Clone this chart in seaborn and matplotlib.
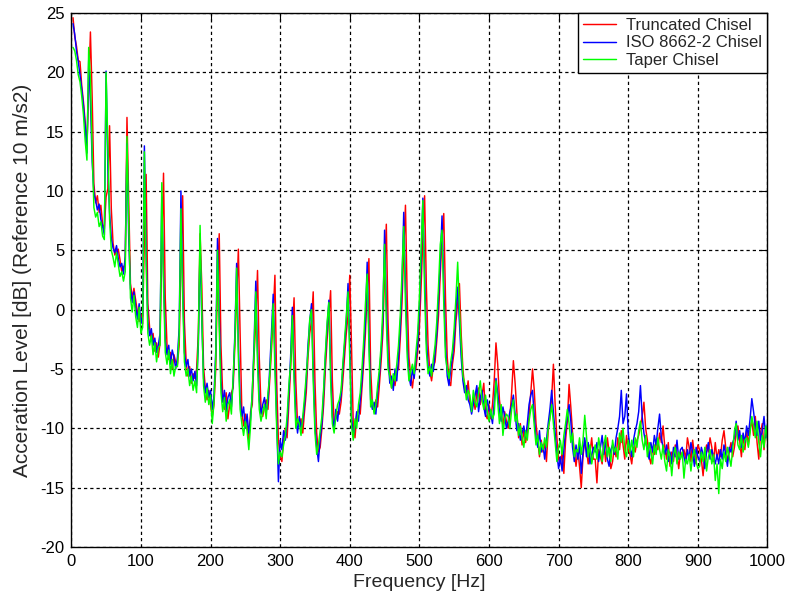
import numpy as np
import pandas as pd
import matplotlib
matplotlib.use("Agg")
import matplotlib.pyplot as plt
import seaborn as sns

series_names = ["Truncated Chisel", "ISO 8662-2 Chisel", "Taper Chisel"]
series_colors = ["#ff0000", "#0000ff", "#00ff00"]
x_ticks = [0, 100, 200, 300, 400, 500, 600, 700, 800, 900, 1000]
y_ticks = [-20, -15, -10, -5, 0, 5, 10, 15, 20, 25]
x_label = "Frequency [Hz]"
y_label = "Acceration Level [dB] (Reference 10 m/s2)"
freq_step = 2.5  # Hz between samples (first sample at 2.5 Hz)

# Truncated Chisel (dB), 10 samples per 25 Hz row
truncated = [
    24.6, 23.0, 22.2, 21.0, 20.9, 18.9, 17.5, 15.8, 13.8, 18.5,
    23.4, 17.9, 10.6, 9.0, 9.6, 8.2, 8.8, 7.2, 6.8, 9.5,
    10.2, 15.5, 8.5, 5.6, 4.6, 5.0, 5.1, 4.2, 3.2, 3.6,
    3.8, 16.2, 9.0, 2.2, 1.0, 1.8, 0.8, -0.2, -1.0, -0.4,
    -1.2, 6.0, 11.4, 0.5, -1.5, -2.6, -2.0, -3.5, -2.8, -4.0,
    -2.8, 5.0, 11.5, 1.0, -3.0, -4.2, -3.6, -5.0, -3.8, -4.4,
    -4.6, -3.0, 4.0, 9.6, -1.0, -4.4, -5.6, -4.8, -6.2, -5.4,
    -5.8, -5.0, -2.0, 6.4, 2.0, -4.8, -6.6, -7.6, -6.8, -8.0,
    -9.0, -8.0, -5.0, 2.5, 6.4, -3.0, -7.2, -8.4, -7.0, -9.2,
    -8.0, -7.0, -6.6, -3.0, 1.0, 5.1, -2.0, -8.6, -9.8, -8.8,
    -9.6, -11.0, -8.6, -8.0, -4.0, -1.0, 3.3, -4.0, -8.2, -9.0,
    -8.2, -7.6, -8.4, -6.0, -3.5, -0.5, 2.9, -6.0, -11.0, -12.4,
    -12.8, -11.0, -10.0, -10.8, -8.0, -5.0, -2.0, 1.0, -6.0, -9.6,
    -9.8, -9.2, -10.4, -8.6, -7.0, -4.0, -2.0, -1.0, 1.5, -6.0,
    -10.4, -12.0, -11.6, -10.0, -8.0, -5.0, -2.5, -0.5, 1.6, -6.0,
    -9.6, -9.2, -8.6, -8.8, -7.8, -6.0, -4.0, -2.0, -0.5, 2.9,
    -3.0, -9.6, -10.8, -9.0, -8.4, -8.8, -6.6, -4.5, -2.0, 1.5,
    4.3, -5.0, -8.0, -8.6, -7.6, -8.2, -6.4, -4.4, -2.0, 3.0,
    7.2, -1.0, -5.0, -6.6, -5.8, -6.4, -5.2, -5.0, -2.5, 0.5,
    5.0, 8.8, 1.0, -4.0, -5.6, -6.6, -5.2, -5.0, -3.6, -1.5,
    2.0, 6.0, 9.6, 2.0, -3.0, -5.2, -6.0, -4.8, -4.4, -2.6,
    -0.5, 3.0, 6.0, 8.1, 1.0, -4.0, -6.0, -6.4, -4.6, -3.5,
    -1.0, 0.5, 2.2, -2.0, -5.0, -6.6, -7.2, -6.0, -7.8, -8.4,
    -7.4, -8.4, -7.0, -6.6, -8.0, -7.2, -6.2, -8.8, -9.2, -8.0,
    -9.2, -8.0, -6.0, -2.8, -4.6, -7.6, -8.8, -9.8, -8.6, -9.4,
    -10.0, -9.0, -7.0, -4.3, -6.2, -8.6, -10.8, -9.6, -11.4, -10.2,
    -11.2, -10.4, -9.0, -7.0, -5.0, -6.8, -9.6, -11.0, -12.4, -11.0,
    -12.0, -11.2, -12.8, -10.2, -9.0, -7.4, -4.6, -8.0, -10.8, -12.6,
    -13.0, -12.0, -13.8, -11.0, -9.4, -6.3, -8.2, -10.4, -12.0, -13.2,
    -11.8, -13.2, -15.0, -12.4, -11.0, -11.8, -13.0, -12.0, -10.8, -12.6,
    -12.6, -14.6, -11.8, -12.4, -13.0, -11.2, -12.8, -10.8, -12.0, -13.4,
    -12.8, -11.6, -12.4, -10.8, -11.8, -10.2, -11.4, -12.6, -10.6, -11.8,
    -12.2, -13.0, -11.6, -12.0, -11.0, -10.6, -9.8, -9.0, -7.8, -10.0,
    -11.0, -12.4, -13.0, -11.6, -12.2, -11.0, -11.8, -10.4, -11.2, -9.8,
    -11.6, -12.6, -11.2, -13.2, -12.0, -12.8, -11.4, -12.2, -13.4, -12.0,
    -12.4, -11.8, -12.6, -10.8, -11.6, -12.8, -11.0, -12.2, -13.0, -11.4,
    -11.8, -12.6, -14.0, -12.2, -11.4, -12.0, -10.8, -11.6, -12.8, -11.2,
    -12.6, -11.8, -12.4, -11.0, -10.2, -11.6, -12.8, -12.0, -11.2, -12.4,
    -11.6, -10.4, -9.8, -11.0, -12.4, -10.6, -11.8, -10.2, -11.4, -10.0,
    -9.4, -10.6, -9.0, -11.2, -12.6, -10.4, -9.6, -11.8, -10.0, -10.8,
]

# ISO 8662-2 Chisel (dB)
iso = [
    24.1, 23.2, 21.8, 20.9, 19.8, 18.6, 17.2, 15.4, 13.2, 21.0,
    17.6, 12.5, 9.8, 9.2, 8.4, 8.9, 7.6, 7.0, 6.3, 20.1,
    12.0, 8.2, 6.0, 5.2, 4.8, 5.4, 4.3, 3.6, 3.9, 3.0,
    4.5, 14.0, 6.0, 1.8, 0.6, 1.5, 0.2, -0.8, 0.5, -1.2,
    -0.5, 13.8, 5.0, -1.0, -2.2, -1.6, -3.0, -2.4, -3.6, -3.0,
    -2.0, 9.5, 3.0, -2.6, -3.8, -3.0, -4.6, -3.4, -4.0, -5.0,
    -4.0, -1.5, 10.0, 2.0, -3.6, -4.8, -4.2, -5.6, -5.0, -6.0,
    -5.2, -6.4, -3.0, 5.5, -1.0, -5.8, -7.0, -6.2, -7.4, -6.8,
    -8.4, -7.2, -3.5, 6.0, -0.5, -6.0, -7.8, -6.8, -8.6, -7.4,
    -7.0, -8.2, -6.0, -2.0, 3.9, -3.0, -7.6, -9.0, -8.2, -10.0,
    -8.8, -10.4, -9.2, -7.0, -3.0, 2.4, -3.5, -7.6, -8.8, -8.0,
    -7.4, -8.6, -7.8, -5.0, -2.0, 1.3, -4.0, -9.0, -14.5, -11.0,
    -11.8, -10.2, -11.0, -9.6, -7.0, -4.0, 0.2, -5.0, -9.0, -10.4,
    -9.0, -10.0, -9.4, -8.0, -6.0, -3.0, -1.0, 0.5, -5.0, -9.8,
    -11.6, -12.8, -10.8, -9.6, -7.0, -4.0, -1.5, 0.8, -5.0, -9.0,
    -10.0, -8.4, -9.4, -8.0, -7.2, -5.0, -3.0, -1.0, 2.2, -3.0,
    -9.0, -10.6, -9.8, -8.6, -9.4, -7.6, -6.0, -3.5, -1.0, 4.0,
    -2.0, -7.6, -8.4, -7.8, -8.8, -7.0, -5.6, -3.5, -1.0, 6.7,
    0.5, -4.0, -6.2, -5.6, -6.8, -5.0, -6.0, -4.0, -1.5, 2.0,
    8.2, 2.0, -3.0, -5.6, -6.4, -5.0, -5.8, -4.2, -3.0, 0.0,
    4.0, 9.4, 3.0, -2.5, -4.8, -5.6, -4.6, -5.2, -3.6, -2.0,
    1.0, 4.0, 7.9, 2.0, -3.0, -5.6, -6.4, -5.0, -4.0, -2.5,
    0.0, 1.9, -1.0, -4.0, -6.0, -7.0, -6.4, -7.6, -8.0, -8.8,
    -8.0, -7.2, -6.4, -8.6, -7.4, -6.8, -8.2, -9.0, -7.6, -8.4,
    -8.8, -9.6, -7.8, -5.8, -7.0, -8.6, -9.4, -8.2, -9.0, -10.0,
    -9.4, -8.6, -8.0, -7.2, -8.8, -10.2, -9.6, -11.0, -10.4, -9.8,
    -10.8, -9.6, -8.0, -7.2, -6.8, -9.0, -10.8, -11.6, -10.2, -12.0,
    -11.4, -12.6, -11.0, -9.6, -8.4, -6.8, -8.6, -10.4, -12.2, -13.4,
    -12.4, -13.6, -11.8, -10.2, -9.0, -8.0, -9.4, -11.6, -12.8, -11.4,
    -12.6, -11.4, -13.8, -12.0, -10.8, -12.4, -11.2, -13.0, -12.2, -11.6,
    -12.0, -11.2, -12.8, -11.6, -10.6, -12.2, -11.0, -12.6, -13.2, -11.8,
    -11.4, -12.2, -10.8, -10.0, -9.0, -6.8, -9.6, -9.0, -7.1, -10.4,
    -11.6, -12.4, -11.0, -10.2, -9.6, -8.6, -6.4, -9.0, -10.4, -11.2,
    -11.8, -12.6, -11.2, -12.0, -10.6, -11.4, -10.0, -8.8, -10.8, -11.6,
    -12.2, -11.4, -12.8, -12.0, -13.0, -11.6, -12.4, -11.0, -12.6, -11.8,
    -11.6, -12.4, -13.0, -11.8, -12.6, -11.2, -12.0, -13.2, -11.6, -12.4,
    -12.8, -11.6, -12.2, -13.4, -12.0, -11.2, -12.6, -11.8, -12.4, -13.0,
    -12.2, -13.0, -11.8, -12.6, -11.4, -12.2, -13.2, -11.6, -12.0, -11.2,
    -10.8, -9.4, -11.0, -10.2, -11.6, -10.4, -11.2, -9.8, -10.6, -9.2,
    -7.5, -8.6, -9.8, -10.6, -9.4, -11.0, -10.2, -9.0, -10.8, -9.6,
]

# Taper Chisel (dB)
taper = [
    22.1, 21.8, 21.0, 19.8, 19.2, 18.0, 16.4, 14.2, 12.6, 22.1,
    19.5, 13.2, 8.6, 7.8, 8.2, 7.0, 7.4, 6.2, 5.9, 20.0,
    14.0, 7.6, 5.0, 4.4, 3.6, 4.8, 3.8, 2.8, 3.2, 2.4,
    3.2, 14.6, 7.2, 1.0, -0.2, 1.2, -0.6, -1.5, 0.2, -2.0,
    -1.5, 13.3, 3.8, -2.0, -3.0, -2.2, -3.8, -2.8, -4.4, -3.2,
    -3.0, 10.7, 2.0, -3.6, -4.6, -3.4, -5.4, -4.2, -5.6, -4.8,
    -4.8, -2.0, 8.5, 1.0, -4.4, -5.6, -5.0, -6.4, -5.6, -6.8,
    -6.0, -7.0, -2.5, 7.1, -0.5, -6.4, -7.8, -6.6, -8.0, -7.2,
    -9.6, -7.8, -4.0, 5.0, -1.5, -7.0, -8.6, -7.4, -9.4, -8.0,
    -7.6, -8.8, -5.6, -2.5, 3.5, -4.0, -8.4, -9.6, -10.6, -9.4,
    -10.2, -11.8, -9.8, -6.6, -3.6, 1.5, -4.6, -8.4, -9.4, -8.6,
    -8.0, -9.2, -7.0, -5.6, -2.8, 0.5, -5.0, -10.0, -13.0, -12.0,
    -12.4, -11.4, -10.6, -9.0, -6.4, -4.6, -0.5, -6.0, -10.0, -9.2,
    -9.6, -10.6, -9.0, -7.4, -5.5, -3.6, -0.8, 0.0, -6.0, -10.4,
    -12.2, -11.4, -10.2, -9.0, -6.6, -3.6, -1.0, 0.6, -6.0, -9.6,
    -10.4, -9.0, -8.0, -7.6, -6.8, -4.6, -2.6, -0.5, 1.5, -4.0,
    -9.8, -11.0, -9.2, -10.0, -8.0, -7.0, -5.0, -2.6, 0.5, 3.0,
    -3.0, -8.2, -7.6, -8.8, -8.0, -6.4, -5.0, -3.0, 0.0, 5.5,
    -1.0, -5.0, -5.6, -6.6, -5.4, -6.0, -4.6, -3.0, -0.5, 3.0,
    7.0, 0.5, -4.0, -6.0, -5.2, -4.6, -5.4, -3.6, -2.0, 1.0,
    5.0, 9.2, 1.5, -3.5, -5.4, -4.8, -5.6, -4.2, -3.0, -1.0,
    2.0, 5.5, 6.7, 0.5, -4.0, -5.0, -5.8, -4.4, -3.4, -1.5,
    1.0, 4.0, 0.0, -3.0, -5.6, -6.2, -7.6, -6.8, -7.2, -8.6,
    -6.8, -7.8, -8.2, -7.0, -6.0, -7.6, -8.4, -7.2, -8.6, -9.4,
    -8.4, -9.2, -8.8, -6.0, -7.8, -9.6, -8.0, -10.6, -9.2, -8.8,
    -9.0, -10.0, -8.4, -7.6, -9.4, -8.8, -10.6, -9.8, -10.8, -11.6,
    -10.2, -11.0, -9.4, -8.4, -8.0, -9.8, -11.4, -10.6, -12.2, -11.2,
    -11.8, -10.8, -11.6, -10.0, -9.2, -8.0, -9.6, -11.2, -12.8, -11.6,
    -11.0, -12.2, -10.6, -9.6, -8.4, -9.6, -11.2, -10.4, -12.4, -11.8,
    -12.0, -10.8, -12.2, -11.0, -8.9, -10.6, -12.4, -11.4, -13.0, -12.2,
    -11.4, -12.6, -10.8, -11.8, -12.8, -11.4, -10.6, -12.4, -11.6, -12.8,
    -11.0, -12.0, -11.6, -12.6, -10.4, -11.2, -10.0, -11.8, -12.4, -11.0,
    -12.0, -11.0, -12.4, -10.8, -11.6, -10.2, -9.4, -11.0, -11.8, -10.6,
    -12.4, -11.2, -12.0, -13.0, -11.4, -12.2, -10.8, -11.8, -12.6, -11.4,
    -12.8, -13.6, -11.8, -12.4, -14.0, -12.2, -11.6, -13.0, -12.0, -12.6,
    -12.0, -14.2, -12.6, -13.0, -12.2, -13.6, -12.4, -11.8, -12.8, -13.4,
    -13.2, -12.0, -12.8, -11.6, -13.6, -12.4, -11.8, -13.0, -12.2, -14.4,
    -13.0, -15.5, -12.6, -13.4, -12.0, -12.8, -11.6, -12.4, -13.2, -11.8,
    -10.2, -9.6, -11.4, -11.8, -10.6, -12.0, -11.0, -10.8, -11.6, -10.4,
    -9.0, -9.8, -10.8, -9.4, -11.2, -12.4, -10.6, -11.6, -9.8, -11.0,
]

freq = np.arange(1, len(truncated) + 1) * freq_step
values = [truncated, iso, taper]
df = pd.DataFrame({
    "Frequency": np.concatenate([freq] * 3),
    "Level": np.concatenate([np.asarray(v, dtype=float) for v in values]),
    "Series": np.repeat(series_names, len(freq)),
})

sns.set_style("white")
plt.rcParams["font.family"] = ["Liberation Sans", "DejaVu Sans"]

fig = plt.figure(figsize=(7.85, 6.04), dpi=100)
ax = fig.add_axes([0.0908, 0.0944, 0.8869, 0.8841])

sns.lineplot(
    data=df, x="Frequency", y="Level", hue="Series",
    hue_order=series_names,
    palette=dict(zip(series_names, series_colors)),
    estimator=None, sort=False, linewidth=1.05, legend=False, ax=ax,
)

ax.set_xlim(0, 1000)
ax.set_ylim(-20, 25)
ax.set_xticks(x_ticks)
ax.set_yticks(y_ticks)
ax.set_xticklabels([str(t) for t in x_ticks])
ax.set_yticklabels([str(t) for t in y_ticks])
ax.grid(True, color="black", linestyle=(0, (2.6, 2.4)), linewidth=0.9)
ax.set_axisbelow(True)
for s in ax.spines.values():
    s.set_color("black")
    s.set_linewidth(1.0)
    s.set_visible(True)
ax.tick_params(direction="in", length=5, width=0.8, top=True, right=True,
               labelsize=12, pad=5, colors="black")
ax.set_xlabel(x_label, fontsize=14, labelpad=4)
ax.set_ylabel(y_label, fontsize=15, labelpad=6)

leg = ax.legend(ax.lines[:3], series_names, loc="upper right",
                bbox_to_anchor=(1.0, 1.0), borderaxespad=0.0, fontsize=12,
                frameon=True, fancybox=False, framealpha=1.0,
                edgecolor="black", handlelength=2.0, handletextpad=0.6,
                borderpad=0.3, labelspacing=0.15)
leg.get_frame().set_linewidth(1.0)

fig.savefig("out.png", dpi=100, facecolor="white")
